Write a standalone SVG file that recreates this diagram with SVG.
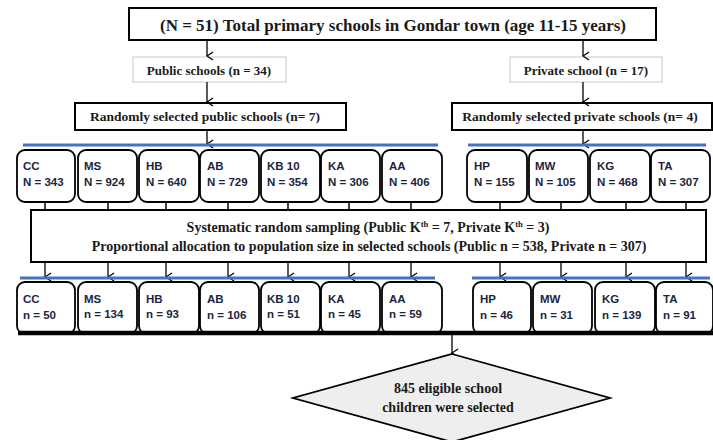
<svg xmlns="http://www.w3.org/2000/svg" width="713" height="440" viewBox="0 0 713 440">
<defs>
<marker id="ah" viewBox="0 0 10 10" refX="5" refY="9" markerWidth="10" markerHeight="10" markerUnits="userSpaceOnUse" orient="auto-start-reverse">
<path d="M1,3 L5,9 L9,3" fill="none" stroke="#000" stroke-width="1.3"/>
</marker>
</defs>
<style>
.box{fill:#fff;stroke:#000;stroke-width:2}
.lbox{fill:#fff;stroke:#c8c8c8;stroke-width:1}
.sch{fill:#fff;stroke:#000;stroke-width:1.8}
.t{font-family:"Liberation Serif","Times New Roman",serif;font-weight:bold;fill:#1a1a1a;text-anchor:middle}
.s{font-family:"Liberation Sans",Arial,sans-serif;font-weight:bold;font-size:11.5px;fill:#1c2540}
.blue{stroke:#4472c4;stroke-width:3}
.ln{stroke:#000;stroke-width:1.5;fill:none}
.arr{stroke:#000;stroke-width:1.3;fill:none;marker-end:url(#ah)}
</style>
<rect width="713" height="440" fill="#fff"/>

<g id="total">
<rect class="box" x="129" y="8" width="527" height="32"/>
<text class="t" x="393" y="31" font-size="17">(N = 51) Total primary schools in Gondar town (age 11-15 years)</text>
</g>
<g id="public">
<rect class="lbox" x="133" y="57" width="153" height="25"/>
<text class="t" x="209" y="75" font-size="13">Public schools (n = 34)</text>
</g>
<g id="private">
<rect class="lbox" x="510" y="57" width="152" height="25"/>
<text class="t" x="586" y="75" font-size="13">Private school (n = 17)</text>
</g>
<g id="randpub">
<rect class="box" x="75" y="103" width="271" height="27"/>
<text class="t" x="205" y="121" font-size="13.5">Randomly selected public schools (n= 7)</text>
</g>
<g id="randpriv">
<rect class="box" x="452" y="103" width="260" height="27"/>
<text class="t" x="580" y="121" font-size="13.5">Randomly selected private schools (n= 4)</text>
</g>

<g id="connectors">
<line class="arr" x1="207" y1="40" x2="207" y2="56"/>
<line class="arr" x1="583" y1="40" x2="583" y2="56"/>
<line class="arr" x1="207" y1="82" x2="207" y2="102"/>
<line class="arr" x1="583" y1="82" x2="583" y2="102"/>
<line class="arr" x1="207" y1="130" x2="207" y2="144"/>
<line class="arr" x1="583" y1="130" x2="583" y2="144"/>
<line class="blue" x1="23" y1="145" x2="438" y2="145"/>
<line class="blue" x1="468" y1="145" x2="706" y2="145"/>
<g class="ln">
<line x1="45" y1="202" x2="45" y2="210"/>
<line x1="108" y1="202" x2="108" y2="210"/>
<line x1="166" y1="202" x2="166" y2="210"/>
<line x1="228" y1="202" x2="228" y2="210"/>
<line x1="288" y1="202" x2="288" y2="210"/>
<line x1="349" y1="202" x2="349" y2="210"/>
<line x1="411" y1="202" x2="411" y2="210"/>
<line x1="500" y1="202" x2="500" y2="210"/>
<line x1="561" y1="202" x2="561" y2="210"/>
<line x1="626" y1="202" x2="626" y2="210"/>
<line x1="686" y1="202" x2="686" y2="210"/>
</g>
<line class="arr" x1="45" y1="262" x2="45" y2="277"/>
<line class="arr" x1="108" y1="262" x2="108" y2="277"/>
<line class="arr" x1="166" y1="262" x2="166" y2="277"/>
<line class="arr" x1="228" y1="262" x2="228" y2="277"/>
<line class="arr" x1="288" y1="262" x2="288" y2="277"/>
<line class="arr" x1="349" y1="262" x2="349" y2="277"/>
<line class="arr" x1="411" y1="262" x2="411" y2="277"/>
<line class="arr" x1="500" y1="262" x2="500" y2="277"/>
<line class="arr" x1="561" y1="262" x2="561" y2="277"/>
<line class="arr" x1="626" y1="262" x2="626" y2="277"/>
<line class="arr" x1="686" y1="262" x2="686" y2="277"/>
<line class="blue" x1="20" y1="278" x2="435" y2="278"/>
<line class="blue" x1="472" y1="278" x2="710" y2="278"/>
<line class="arr" x1="452" y1="335" x2="452" y2="353"/>
</g>

<g id="top-cc"><rect class="sch" x="17" y="150" width="58" height="52" rx="8"/><text class="s" x="23" y="170">CC</text><text class="s" x="23" y="186">N = 343</text></g>
<g id="top-ms"><rect class="sch" x="78" y="150" width="59" height="52" rx="8"/><text class="s" x="84" y="170">MS</text><text class="s" x="84" y="186">N = 924</text></g>
<g id="top-hb"><rect class="sch" x="139" y="150" width="60" height="52" rx="8"/><text class="s" x="146" y="170">HB</text><text class="s" x="146" y="186">N = 640</text></g>
<g id="top-ab"><rect class="sch" x="200" y="150" width="59" height="52" rx="8"/><text class="s" x="207" y="170">AB</text><text class="s" x="207" y="186">N = 729</text></g>
<g id="top-kb10"><rect class="sch" x="261" y="150" width="59" height="52" rx="8"/><text class="s" x="267" y="170">KB 10</text><text class="s" x="267" y="186">N = 354</text></g>
<g id="top-ka"><rect class="sch" x="321" y="150" width="59" height="52" rx="8"/><text class="s" x="328" y="170">KA</text><text class="s" x="328" y="186">N = 306</text></g>
<g id="top-aa"><rect class="sch" x="382" y="150" width="60" height="52" rx="8"/><text class="s" x="389" y="170">AA</text><text class="s" x="389" y="186">N = 406</text></g>
<g id="top-hp"><rect class="sch" x="467" y="150" width="60" height="52" rx="8"/><text class="s" x="474" y="170">HP</text><text class="s" x="474" y="186">N = 155</text></g>
<g id="top-mw"><rect class="sch" x="529" y="150" width="59" height="52" rx="8"/><text class="s" x="535" y="170">MW</text><text class="s" x="535" y="186">N = 105</text></g>
<g id="top-kg"><rect class="sch" x="590" y="150" width="60" height="52" rx="8"/><text class="s" x="597" y="170">KG</text><text class="s" x="597" y="186">N = 468</text></g>
<g id="top-ta"><rect class="sch" x="651" y="150" width="59" height="52" rx="8"/><text class="s" x="658" y="170">TA</text><text class="s" x="658" y="186">N = 307</text></g>

<g id="sampling">
<rect class="box" x="31" y="210" width="675" height="52"/>
<text class="t" x="368" y="232" font-size="14">Systematic random sampling (Public K<tspan dy="-5" font-size="8.5">th</tspan><tspan dy="5"> = 7, Private K</tspan><tspan dy="-5" font-size="8.5">th</tspan><tspan dy="5"> = 3)</tspan></text>
<text class="t" x="369" y="251" font-size="14">Proportional allocation to population size in selected schools (Public n = 538, Private n = 307)</text>
</g>

<g id="bot-cc"><rect class="sch" x="17" y="282" width="58" height="52" rx="8"/><text class="s" x="23" y="303">CC</text><text class="s" x="23" y="319">n = 50</text></g>
<g id="bot-ms"><rect class="sch" x="78" y="282" width="59" height="52" rx="8"/><text class="s" x="84" y="303">MS</text><text class="s" x="84" y="318">n = 134</text></g>
<g id="bot-hb"><rect class="sch" x="139" y="282" width="60" height="52" rx="8"/><text class="s" x="146" y="303">HB</text><text class="s" x="146" y="318">n = 93</text></g>
<g id="bot-ab"><rect class="sch" x="200" y="282" width="59" height="52" rx="8"/><text class="s" x="207" y="303">AB</text><text class="s" x="207" y="319">n = 106</text></g>
<g id="bot-kb10"><rect class="sch" x="261" y="282" width="59" height="52" rx="8"/><text class="s" x="267" y="303">KB 10</text><text class="s" x="267" y="318">n = 51</text></g>
<g id="bot-ka"><rect class="sch" x="321" y="282" width="59" height="52" rx="8"/><text class="s" x="328" y="303">KA</text><text class="s" x="328" y="318">n = 45</text></g>
<g id="bot-aa"><rect class="sch" x="382" y="282" width="60" height="52" rx="8"/><text class="s" x="389" y="303">AA</text><text class="s" x="389" y="318">n = 59</text></g>
<g id="bot-hp"><rect class="sch" x="473" y="282" width="58" height="52" rx="8"/><text class="s" x="480" y="303">HP</text><text class="s" x="480" y="319">n = 46</text></g>
<g id="bot-mw"><rect class="sch" x="533" y="282" width="59" height="52" rx="8"/><text class="s" x="540" y="303">MW</text><text class="s" x="540" y="319">n = 31</text></g>
<g id="bot-kg"><rect class="sch" x="595" y="282" width="60" height="52" rx="8"/><text class="s" x="602" y="303">KG</text><text class="s" x="602" y="319">n = 139</text></g>
<g id="bot-ta"><rect class="sch" x="656" y="282" width="57" height="52" rx="8"/><text class="s" x="663" y="303">TA</text><text class="s" x="663" y="319">n = 91</text></g>

<g id="base">
<line x1="18" y1="333" x2="713" y2="333" stroke="#000" stroke-width="4.5"/>
</g>

<g id="result">
<polygon points="452,354 610,398 452,442 293,398" fill="#eeeeee" stroke="#000" stroke-width="1.8"/>
<text class="t" x="448" y="393" font-size="14">845 eligible school</text>
<text class="t" x="448" y="412" font-size="14">children were selected</text>
</g>
</svg>
